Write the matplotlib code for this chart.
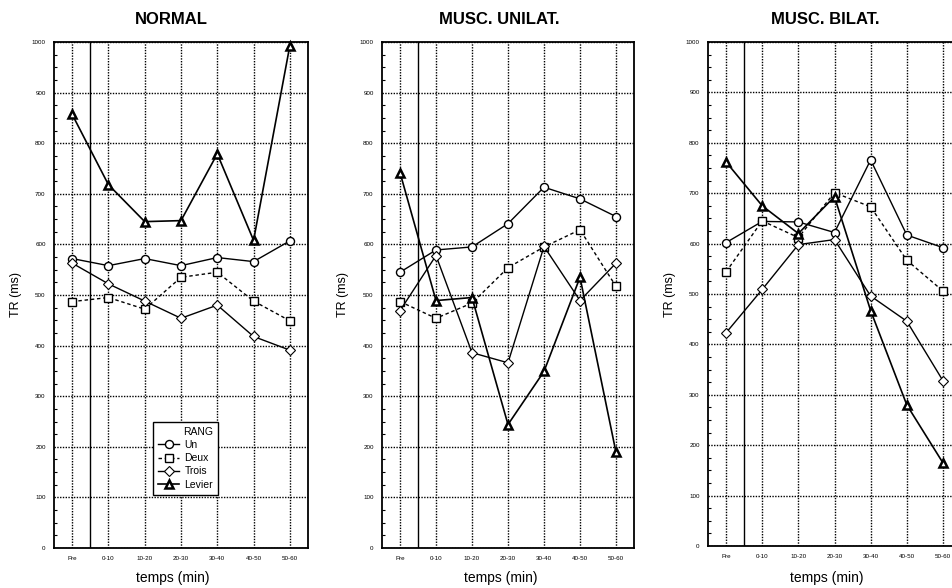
import numpy as np
import matplotlib
matplotlib.use("Agg")
import matplotlib.pyplot as plt
from matplotlib.lines import Line2D
from matplotlib.ticker import MultipleLocator

plt.rcParams['font.family'] = ['Liberation Sans', 'DejaVu Sans']

# data
periods = ['Pre', '0-10', '10-20', '20-30', '30-40', '40-50', '50-60']
titles = ['NORMAL', 'MUSC. UNILAT.', 'MUSC. BILAT.']
series_names = ['Un', 'Deux', 'Trois', 'Levier']

normal_un = [572, 558, 572, 558, 574, 566, 607]
normal_deux = [487, 495, 472, 535, 545, 488, 449]
normal_trois = [563, 522, 488, 454, 480, 418, 391]
normal_levier = [857, 718, 645, 647, 779, 608, 993]

unilat_un = [545, 589, 595, 641, 713, 690, 655]
unilat_deux = [487, 454, 484, 554, 595, 629, 517]
unilat_trois = [469, 578, 386, 366, 596, 489, 563]
unilat_levier = [742, 489, 495, 244, 349, 535, 189]

bilat_un = [602, 644, 643, 622, 766, 617, 592]
bilat_deux = [544, 645, 612, 701, 673, 567, 506]
bilat_trois = [423, 509, 598, 608, 496, 446, 328]
bilat_levier = [762, 675, 620, 693, 467, 280, 165]

panels = [
    [normal_un, normal_deux, normal_trois, normal_levier],
    [unilat_un, unilat_deux, unilat_trois, unilat_levier],
    [bilat_un, bilat_deux, bilat_trois, bilat_levier],
]

styles = [
    dict(marker='o', linestyle='-', lw=1.0, ms=5.8, mew=1.0),
    dict(marker='s', linestyle=(0, (2.5, 2)), lw=1.0, ms=5.6, mew=1.0),
    dict(marker='D', linestyle='-', lw=1.0, ms=5.0, mew=0.8),
    dict(marker='^', linestyle='-', lw=1.2, ms=6.2, mew=1.8),
]

W, H = 952, 588
fig = plt.figure(figsize=(W / 100, H / 100), dpi=100)

# axes boxes in pixels: left, right, top, bottom
boxes = [(54, 308, 42, 548), (382, 634, 42, 548), (708, 961, 42, 546)]
title_x = [171, 499, 825]
ylab_x = [16, 343, 670]

x = np.arange(len(periods))
for i, (l, r, t, b) in enumerate(boxes):
    ax = fig.add_axes([l / W, (H - b) / H, (r - l) / W, (b - t) / H])
    for vals, st in zip(panels[i], styles):
        ax.plot(x, vals, color='black', mfc='white', mec='black', zorder=5,
                clip_on=False, **st)
    ax.set_xlim(-0.5, 6.5)
    ax.set_ylim(0, 1000)
    ax.set_xticks(x)
    ax.set_xticklabels(periods, fontsize=4.5)
    ax.yaxis.set_major_locator(MultipleLocator(100))
    ax.yaxis.set_minor_locator(MultipleLocator(25))
    ax.tick_params(axis='y', labelsize=4.5, direction='in', length=0, pad=6)
    ax.tick_params(axis='y', which='minor', direction='in', length=2.5, width=0.8)
    ax.tick_params(axis='x', length=0, pad=6)
    ax.grid(True, color='black', linestyle=(0, (1, 1)), lw=1.0)
    ax.set_axisbelow(True)
    ax.axvline(0.5, color='black', lw=1.0, zorder=3)
    for sp in ax.spines.values():
        sp.set_linewidth(1.3)

    cx = title_x[i] / W
    fig.text(cx, 1 - 19 / H, titles[i], ha='center', va='center',
             fontsize=12, fontweight='bold')
    fig.text(cx + 2 / W, 1 - 578 / H, 'temps (min)', ha='center', va='center',
             fontsize=10)
    fig.text(ylab_x[i] / W, 1 - 295 / H, 'TR (ms)', ha='center', va='center',
             rotation=90, fontsize=9)

    if i == 0:
        handles = [Line2D([], [], color='black', mfc='white', mec='black', **st)
                   for st in styles]
        leg = ax.legend(handles, series_names, title='RANG', loc='lower left',
                        bbox_to_anchor=(0.37, 0.095), fontsize=7.5,
                        title_fontsize=7.5, frameon=True, fancybox=False,
                        edgecolor='black', framealpha=1, handlelength=2.0,
                        handletextpad=0.5, borderpad=0.5, labelspacing=0.3)
        leg.get_frame().set_linewidth(1.0)
        leg._legend_box.align = 'right'
        leg.set_zorder(10)

fig.savefig('out.png', dpi=100)
